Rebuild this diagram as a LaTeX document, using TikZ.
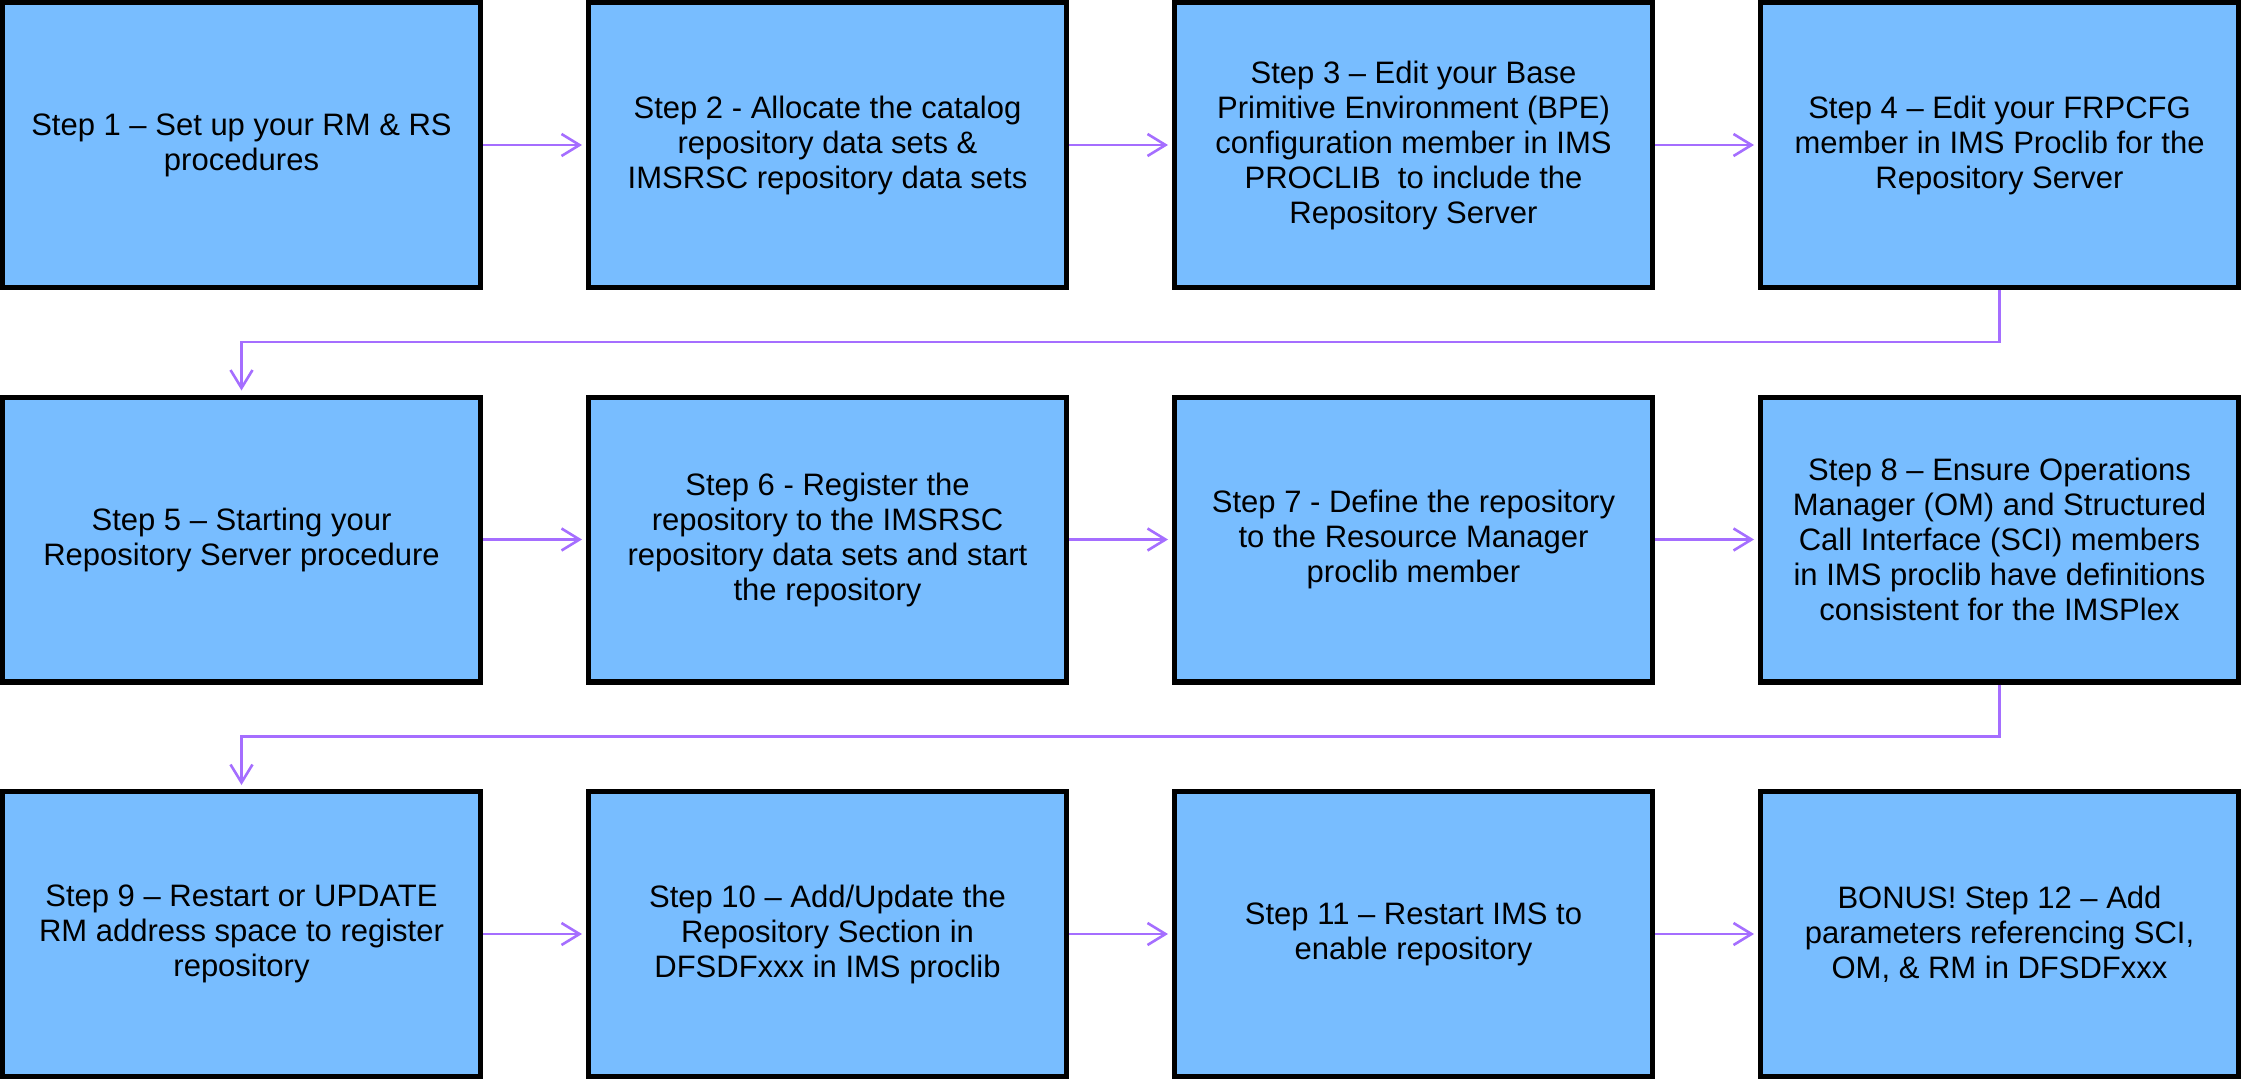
\documentclass[tikz,border=0pt]{standalone}
\usepackage{fontspec}
\setmainfont{Liberation Sans}
\usetikzlibrary{arrows.meta}
\definecolor{boxblue}{HTML}{78BDFF}
\definecolor{flowpurple}{HTML}{A56EFF}
\tikzset{
    block/.style = {draw, rectangle, fill=boxblue, line width=2.6pt,
        minimum height=142.4pt,
        minimum width=238.9pt, align=center,
        font={\fontsize{15.5}{17.5}\selectfont}},
    arrow/.style={draw=flowpurple, line width=1.3pt, ->, shorten >=2pt}
}
\begin{document}
\begin{tikzpicture}[auto, node distance=293pt, >={Straight Barb[length=9pt,width=11pt]}]
    \useasboundingbox (0,0) rectangle (1120.5pt,-540.5pt);
    % first row
    \node [block] (setup) at (120.75pt,-72.5pt) {Step 1 – Set up your RM \& RS\\ procedures};
    \node [block, right of=setup] (alloc) {Step 2 - Allocate the catalog\\ repository data sets \&\\ IMSRSC repository data sets};
    \node [block, right of=alloc] (bpe) {Step 3 – Edit your Base\\ Primitive Environment (BPE)\\ configuration member in IMS\\ PROCLIB\ \ to include the\\ Repository Server};
    \node [block, right of=bpe] (frpcfg) {Step 4 – Edit your FRPCFG\\ member in IMS Proclib for the\\ Repository Server};
    \draw [arrow] (setup) -- (alloc);
    \draw [arrow] (alloc) -- (bpe);
    \draw [arrow] (bpe) -- (frpcfg);
    % second row
    \node [block, below of=setup, node distance=197.25pt] (start) {Step 5 – Starting your\\ Repository Server procedure};
    \node [block, right of=start] (register) {Step 6 - Register the\\ repository to the IMSRSC\\ repository data sets and start\\ the repository};
    \node [block, right of=register] (define) {Step 7 - Define the repository\\ to the Resource Manager\\ proclib member};
    \node [block, right of=define] (ensure) {Step 8 – Ensure Operations\\ Manager (OM) and Structured\\ Call Interface (SCI) members\\ in IMS proclib have definitions\\ consistent for the IMSPlex};
    \draw [arrow] (frpcfg.south) -- ++(0,-26pt) -| (start.north);
    \draw [arrow] (start) -- (register);
    \draw [arrow] (register) -- (define);
    \draw [arrow] (define) -- (ensure);
    % third row
    \node [block, below of=start, node distance=197.25pt] (restart) {Step 9 – Restart or UPDATE\\ RM address space to register\\ repository};
    \node [block, right of=restart] (update) {Step 10 – Add/Update the\\ Repository Section in\\ DFSDFxxx in IMS proclib};
    \node [block, right of=update] (ims) {Step 11 – Restart IMS to\\ enable repository};
    \node [block, right of=ims] (bonus) {BONUS! Step 12 – Add\\ parameters referencing SCI,\\ OM, \& RM in DFSDFxxx};
    \draw [arrow] (ensure.south) -- ++(0,-26pt) -| (restart.north);
    \draw [arrow] (restart) -- (update);
    \draw [arrow] (update) -- (ims);
    \draw [arrow] (ims) -- (bonus);
\end{tikzpicture}
\end{document}
